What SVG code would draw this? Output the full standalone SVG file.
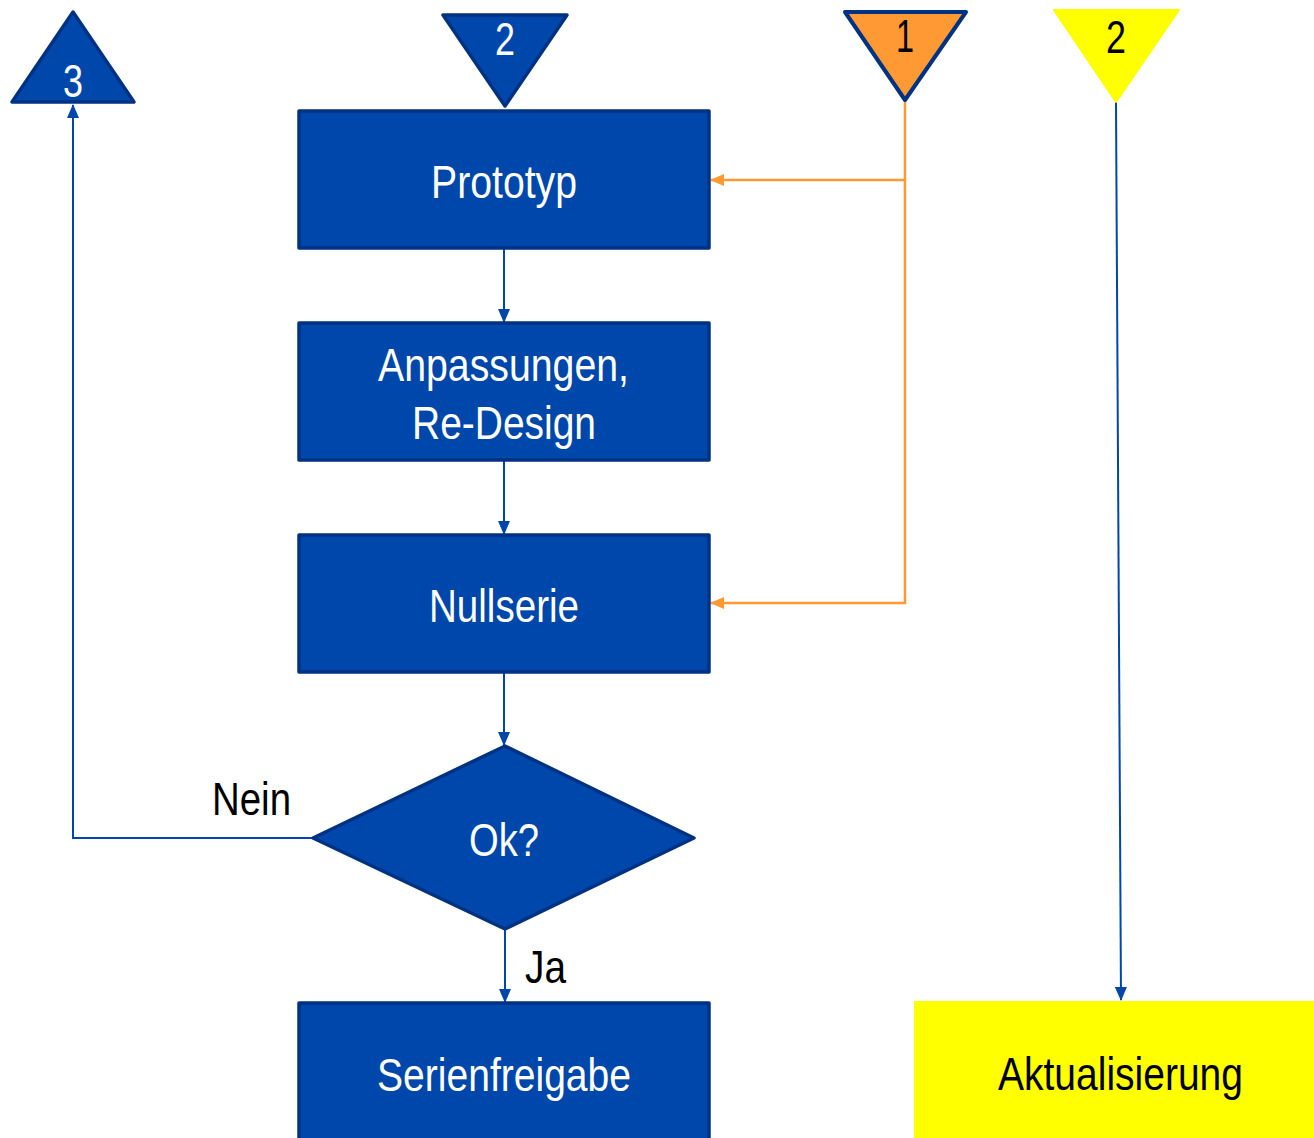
<svg xmlns="http://www.w3.org/2000/svg" width="1314" height="1138" viewBox="0 0 1314 1138">
<style>
.box{fill:#0047AB;stroke:#003283;stroke-width:3.5;stroke-linejoin:round}
.t{font-family:"Liberation Sans Narrow","Arial Narrow","Liberation Sans",sans-serif;font-size:46px;text-anchor:middle}
.w{fill:#ffffff}
.k{fill:#000000}
.blue{stroke:#0047AB;stroke-width:2;fill:none}
.orange{stroke:#FF9933;stroke-width:2.5;fill:none}
</style>
<defs>
<marker id="ab" markerWidth="14" markerHeight="12" refX="13" refY="6" orient="auto" markerUnits="userSpaceOnUse" viewBox="0 0 14 12">
<path d="M0,0 L14,6 L0,12 z" fill="#0047AB"/>
</marker>
<marker id="ao" markerWidth="14" markerHeight="12" refX="13" refY="6" orient="auto" markerUnits="userSpaceOnUse" viewBox="0 0 14 12">
<path d="M0,0 L14,6 L0,12 z" fill="#FF9933"/>
</marker>
</defs>
<g id="connectors">
<line class="blue" x1="504" y1="249" x2="504" y2="322" marker-end="url(#ab)"/>
<line class="blue" x1="504" y1="461" x2="504" y2="534" marker-end="url(#ab)"/>
<line class="blue" x1="504" y1="673" x2="504" y2="745" marker-end="url(#ab)"/>
<line class="blue" x1="505" y1="930" x2="505" y2="1002" marker-end="url(#ab)"/>
<polyline class="blue" points="313,838 73,838 73,105" marker-end="url(#ab)"/>
<line class="blue" x1="1116" y1="102" x2="1121" y2="1000" marker-end="url(#ab)"/>
<polyline class="orange" points="905,101 905,603 711,603" marker-end="url(#ao)"/>
<line class="orange" x1="905" y1="180" x2="711" y2="180" marker-end="url(#ao)"/>
<text class="t k" x="251.5" y="815" font-size="44" textLength="79" lengthAdjust="spacingAndGlyphs">Nein</text>
<text class="t k" x="545.5" y="983" font-size="44" textLength="41" lengthAdjust="spacingAndGlyphs">Ja</text>
</g>
<g id="conn3">
<polygon class="box" points="73,12 134,102 12,102"/>
<text class="t w" x="73" y="97" font-size="42" textLength="20" lengthAdjust="spacingAndGlyphs">3</text>
</g>
<g id="conn2">
<polygon class="box" points="443,15 567,15 505,106"/>
<text class="t w" x="505" y="55" font-size="42" textLength="20" lengthAdjust="spacingAndGlyphs">2</text>
</g>
<g id="conn1">
<polygon points="845,12 966,12 905,100" fill="#FF9933" stroke="#003283" stroke-width="4" stroke-linejoin="round"/>
<text class="t k" x="905" y="52" font-size="42" textLength="18" lengthAdjust="spacingAndGlyphs">1</text>
</g>
<g id="conn2y">
<polygon points="1054,10 1179,10 1116,102" fill="#FFFF00" stroke="#FFFF00" stroke-width="2" stroke-linejoin="round"/>
<text class="t k" x="1116" y="53" font-size="42" textLength="20" lengthAdjust="spacingAndGlyphs">2</text>
</g>
<g id="prototyp">
<rect class="box" x="299" y="111" width="410" height="137"/>
<text class="t w" x="504" y="198" textLength="146" lengthAdjust="spacingAndGlyphs">Prototyp</text>
</g>
<g id="anpassungen">
<rect class="box" x="299" y="323" width="410" height="137"/>
<text class="t w" x="503.5" y="381" textLength="251" lengthAdjust="spacingAndGlyphs">Anpassungen,</text>
<text class="t w" x="504" y="439" textLength="184" lengthAdjust="spacingAndGlyphs">Re-Design</text>
</g>
<g id="nullserie">
<rect class="box" x="299" y="535" width="410" height="137"/>
<text class="t w" x="504" y="622" textLength="150" lengthAdjust="spacingAndGlyphs">Nullserie</text>
</g>
<g id="ok">
<polygon class="box" points="505,746 694,838 505,929 313,838"/>
<text class="t w" x="504" y="856" textLength="70" lengthAdjust="spacingAndGlyphs">Ok?</text>
</g>
<g id="serienfreigabe">
<rect class="box" x="299" y="1003" width="410" height="145"/>
<text class="t w" x="504" y="1091" textLength="254" lengthAdjust="spacingAndGlyphs">Serienfreigabe</text>
</g>
<g id="aktualisierung">
<rect x="914" y="1001" width="410" height="150" fill="#FFFF00"/>
<text class="t k" x="1120.5" y="1090" textLength="245" lengthAdjust="spacingAndGlyphs">Aktualisierung</text>
</g>
</svg>
